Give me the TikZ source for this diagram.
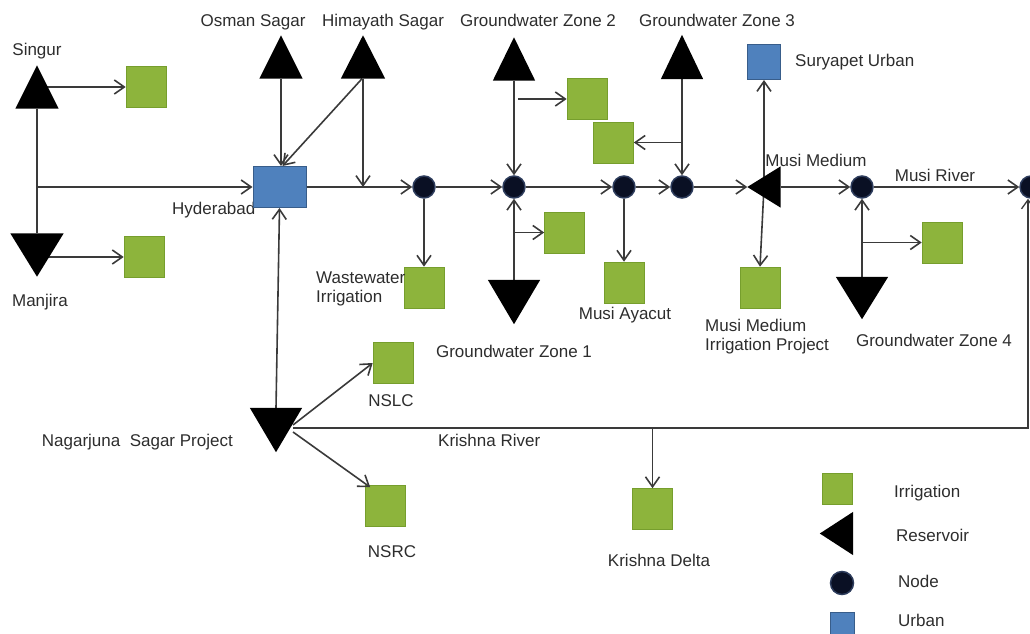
\documentclass[tikz,border=0pt]{standalone}
\usepackage{fontspec}
\setmainfont{Liberation Sans}
\usetikzlibrary{arrows.meta,calc}
\definecolor{irr}{RGB}{141,180,60}
\definecolor{irrdark}{RGB}{118,158,45}
\definecolor{urb}{RGB}{79,129,189}
\definecolor{urbdark}{RGB}{56,93,138}
\definecolor{nod}{RGB}{10,16,36}
\definecolor{nodrim}{RGB}{45,60,92}
\definecolor{ln}{RGB}{58,58,58}
\definecolor{txt}{RGB}{45,45,45}
\newcommand{\ResUp}[1]{\fill (#1.north) -- (#1.south east) -- (#1.south west) -- cycle;}
\newcommand{\ResDown}[1]{\fill (#1.south) -- (#1.north east) -- (#1.north west) -- cycle;}
\newcommand{\ResLeft}[1]{\fill (#1.west) -- (#1.north east) -- (#1.south east) -- cycle;}
\begin{document}
\begin{tikzpicture}[x=1pt,y=-1pt,
  every node/.style={font=\fontsize{17}{19}\selectfont, text=txt, inner sep=0pt},
  lbl/.style={text height=0.72em, text depth=0.2em},
  irrbox/.style={rectangle, fill=irr, draw=irrdark, line width=0.6pt, minimum width=40pt, minimum height=41pt},
  urbbox/.style={rectangle, fill=urb, draw=urbdark, line width=1pt},
  junc/.style={circle, fill=nod, draw=nodrim, line width=1.5pt, minimum size=22pt},
  resbox/.style={rectangle, minimum width=#1},
  flow/.style={draw=ln, line width=1.6pt, -{Straight Barb[length=10pt,width=14pt,line width=1.6pt]}},
  plain/.style={draw=ln, line width=1.6pt},
  thinflow/.style={draw=ln, line width=1.3pt, -{Straight Barb[length=9pt,width=13pt,line width=1.3pt]}}
]
\useasboundingbox (0,0) rectangle (1030,634);

% labels (some are overlapped by shapes)
\node[lbl] (l_singur) at (37,53) {Singur};
\node[lbl] (l_manjira) at (40,304) {Manjira};
\node[lbl] (l_osman) at (253,24) {Osman Sagar};
\node[lbl] (l_himayath) at (383,24) {Himayath Sagar};
\node[lbl] (l_gw2) at (538,24) {Groundwater Zone 2};
\node[lbl] (l_gw3) at (717,24) {Groundwater Zone 3};
\node[lbl, anchor=west] (l_hyd) at (172,212) {Hyderabad};
\node[lbl] (l_ayacut) at (625,317) {Musi Ayacut};
\node[lbl] (l_gw1) at (514,355) {Groundwater Zone 1};
\node[lbl] (l_musimed) at (816,164) {Musi Medium};
\node[lbl, anchor=west] (l_surya) at (795,64) {Suryapet Urban};
\node[lbl] (l_musiriver) at (935,179) {Musi River};
\node[anchor=west, align=left] (l_mmip) at (705,337) {Musi Medium\\Irrigation Project};
\node[lbl] (l_gw4) at (934,344) {Groundwater Zone 4};
\node[lbl, anchor=east] (l_nsp) at (233,444) {Nagarjuna\ \ Sagar Project};
\node[lbl] (l_nslc) at (391,404) {NSLC};
\node[lbl] (l_nsrc) at (392,555) {NSRC};
\node[lbl, anchor=west] (l_krishna) at (438,444) {Krishna River};
\node[lbl] (l_kdelta) at (659,564) {Krishna Delta};
\node[lbl, anchor=west] (l_irr) at (894,495) {Irrigation};
\node[lbl, anchor=west] (l_res) at (896,539) {Reservoir};
\node[lbl, anchor=west] (l_node) at (898,585) {Node};
\node[lbl, anchor=west] (l_urb) at (898,624) {Urban};

% reservoir frames (triangles filled later)
\node[resbox=43pt, minimum height=43pt] (singur) at (37,87) {};
\node[resbox=53pt, minimum height=43pt] (manjira) at (37,255) {};
\node[resbox=43pt, minimum height=43pt] (osman) at (281,57) {};
\node[resbox=44pt, minimum height=43pt] (himayath) at (363,57) {};
\node[resbox=42pt, minimum height=43pt] (gw2) at (514,59) {};
\node[resbox=52pt, minimum height=44pt] (gw1) at (514,302) {};
\node[resbox=42pt, minimum height=44pt] (gw3) at (682,57) {};
\node[resbox=33pt, minimum height=41pt] (musimed) at (764,187) {};
\node[resbox=52pt, minimum height=42pt] (gw4) at (862,298) {};
\node[resbox=52pt, minimum height=44pt] (nsp) at (276,430) {};
\node[resbox=33pt, minimum height=43pt] (leg_res) at (836.5,533.5) {};

% urban
\node[urbbox, minimum width=53pt, minimum height=41pt] (hyd) at (279.5,187) {};
\node[urbbox, minimum width=33pt, minimum height=35pt] (suryapet) at (764,62) {};
\node[urbbox, minimum width=24pt, minimum height=28pt] (leg_urb) at (842,626) {};

% irrigation
\node[irrbox] (ir_singur) at (146,87) {};
\node[irrbox] (ir_manjira) at (144,257) {};
\node[irrbox] (ir_ww) at (424,287.5) {};
\node[irrbox] (ir_gw2) at (587,99) {};
\node[irrbox] (ir_gw1) at (564.5,232.5) {};
\node[irrbox] (ir_gw3) at (613.5,142.5) {};
\node[irrbox] (ir_ayacut) at (624,282.5) {};
\node[irrbox] (ir_mmip) at (760,287.5) {};
\node[irrbox] (ir_gw4) at (942,242.5) {};
\node[irrbox] (nslc) at (393,363) {};
\node[irrbox] (nsrc) at (385.5,506) {};
\node[irrbox] (kdelta) at (652.5,509) {};
\node[irrbox, minimum width=30pt, minimum height=31pt] (leg_irr) at (837,488.5) {};

\node[anchor=west, align=left] (l_ww) at (316,289) {Wastewater\\Irrigation};

% junction nodes
\node[junc] (n1) at (424,187) {};
\node[junc] (n2) at (514,187) {};
\node[junc] (n3) at (624,187) {};
\node[junc] (n4) at (682,187) {};
\node[junc] (n5) at (862,187) {};
\node[junc] (n6) at (1031,187) {};
\node[junc, minimum size=23pt] (leg_node) at (842,583) {};

% connectors
\coordinate (j0) at (singur.south |- hyd.center);
\draw[plain] (singur.south) -- (manjira.north);
\draw[flow] (j0) -- (hyd.west);
\draw[flow] ($(singur.center)+(10,0)$) -- (ir_singur.west);
\draw[flow] ($(manjira.center)+(10,2)$) -- (ir_manjira.west);
\draw[flow] (osman.south) -- (osman.south |- hyd.north);
\draw[flow] ($(himayath.south)+(-1,0)$) -- ($(hyd.north)+(3,0)$);
\draw[flow] (himayath.south) -- (himayath.south |- hyd.center);
\draw[flow] (hyd.east) -- (n1);
\draw[flow] (n1) -- (ir_ww.north);
\draw[flow] (n1) -- (n2);
\draw[flow] (gw2.south) -- (n2);
\draw[flow] ($(n2 |- ir_gw2.west)+(4,0)$) -- (ir_gw2.west);
\draw[flow] (gw1.north) -- (n2);
\draw[flow] (n2 |- ir_gw1.west) -- (ir_gw1.west);
\draw[flow] (n2) -- (n3);
\draw[flow] (n3) -- (ir_ayacut.north);
\draw[flow] (n3) -- (n4);
\draw[flow] (gw3.south) -- (n4);
\draw[flow] (n4 |- ir_gw3.east) -- (ir_gw3.east);
\draw[flow] (n4) -- (musimed.west);
\draw[flow] (musimed.center) -- (suryapet.south);
\draw[flow] (musimed.center) -- (ir_mmip.north);
\draw[flow] (musimed.east) -- (n5);
\draw[flow] (gw4.north) -- (n5);
\draw[flow] (n5 |- ir_gw4.west) -- (ir_gw4.west);
\draw[flow] (n5) -- (n6);
\draw[flow] (nsp.north) -- (hyd.south);
\draw[flow] ($(nsp.center)+(17,-5)$) -- (nslc.west);
\draw[flow] ($(nsp.center)+(17,2)$) -- ($(nsrc.north west)+(5,2)$);
\coordinate (kr) at (1028,428);
\draw[thinflow] ($(nsp.center)+(17,-2)$) -- (kr) -- (kr |- n6.south);
\coordinate (kd) at (kdelta.north |- kr);
\draw[flow] (kd) -- (kdelta.north);

% reservoir triangles
\ResUp{singur}
\ResDown{manjira}
\ResUp{osman}
\ResUp{himayath}
\ResUp{gw2}
\ResDown{gw1}
\ResUp{gw3}
\ResLeft{musimed}
\ResDown{gw4}
\ResDown{nsp}
\ResLeft{leg_res}
\end{tikzpicture}
\end{document}
